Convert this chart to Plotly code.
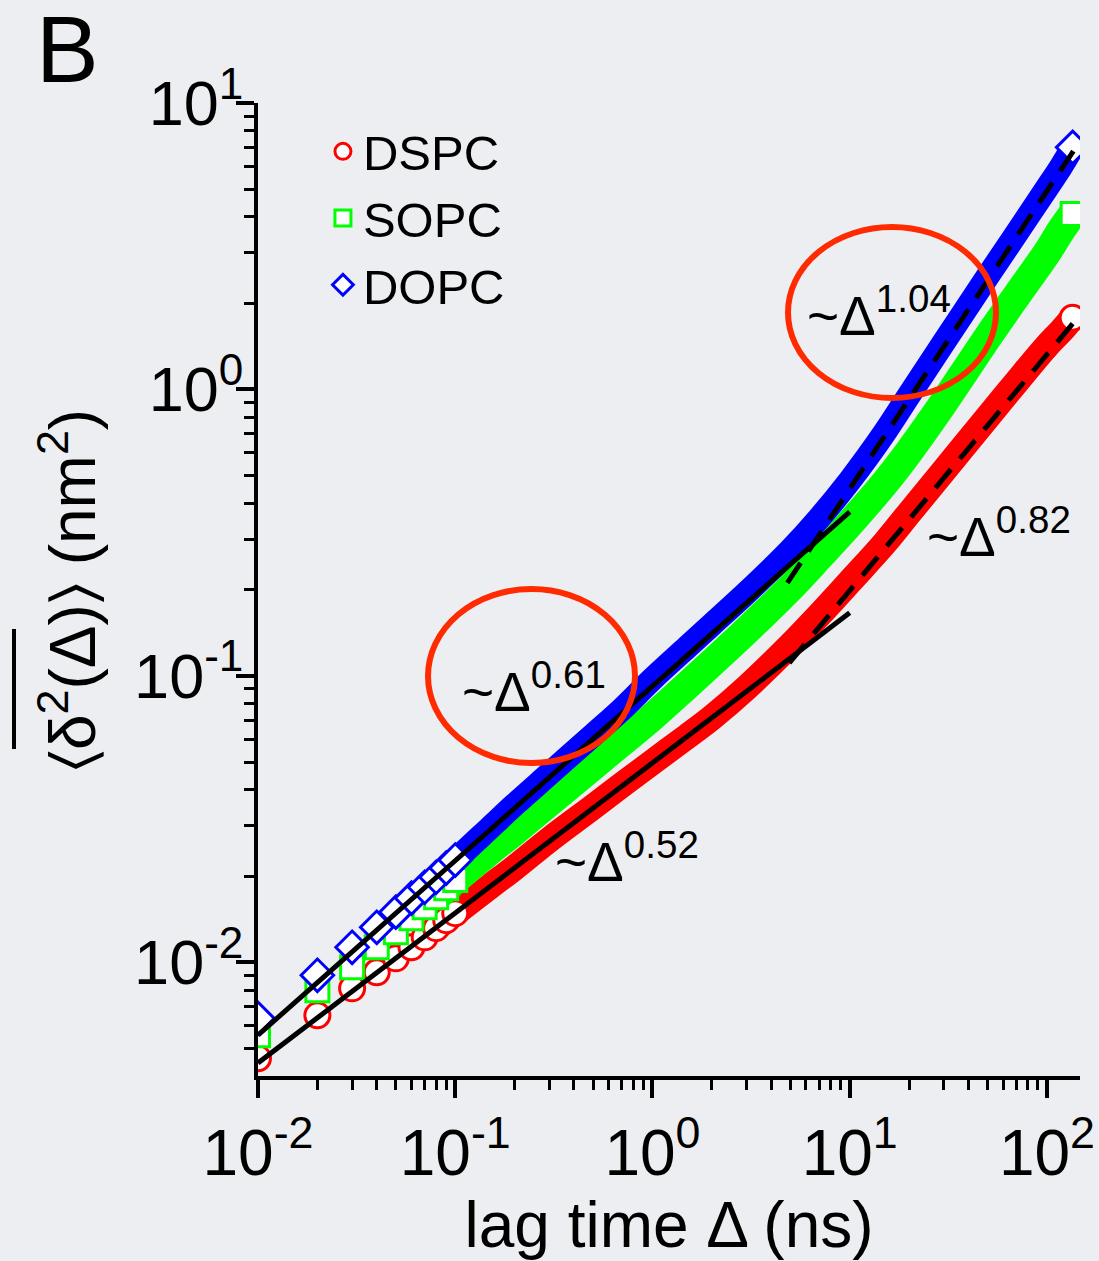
import plotly.graph_objects as go

# ---------------- data ----------------
lag_time = [0.01, 0.02, 0.03, 0.04, 0.05, 0.06, 0.07, 0.08, 0.09, 0.1,
            0.15, 0.2, 0.3, 0.5, 0.7, 1, 1.5, 2, 3, 5, 7, 10, 15, 20,
            30, 50, 70, 100, 118, 135]

dspc = [0.00462, 0.00653, 0.00811, 0.00923, 0.01032, 0.01128, 0.01222, 0.01315, 0.01403, 0.01484,
        0.0184, 0.0214, 0.0268, 0.0349, 0.0416, 0.0500, 0.0615, 0.0715, 0.091, 0.128, 0.163, 0.213,
        0.29, 0.37, 0.52, 0.80, 1.06, 1.42, 1.60, 1.78]

sopc = [0.00556, 0.00798, 0.00961, 0.01128, 0.01273, 0.01425, 0.01556, 0.01687, 0.01815, 0.01936,
        0.0245, 0.0287, 0.0362, 0.0484, 0.0587, 0.072, 0.0926, 0.111, 0.144, 0.203, 0.26, 0.34,
        0.47, 0.607, 0.90, 1.52, 2.12, 3.0, 3.6, 4.1]

dopc = [0.00637, 0.00901, 0.01128, 0.01325, 0.01496, 0.01675, 0.01828, 0.01981, 0.02133, 0.02275,
        0.0295, 0.0355, 0.0455, 0.0622, 0.0765, 0.0975, 0.126, 0.151, 0.195, 0.275, 0.355, 0.48,
        0.705, 0.955, 1.46, 2.48, 3.5, 5.05, 6.0, 7.0]

# power-law fit segments (end points)
fit052_x = [0.01, 10]
fit052_y = [0.00445, 0.166]
fit061_x = [0.01, 10]
fit061_y = [0.00557, 0.374]
fit082_x = [4.94, 145]
fit082_y = [0.111, 1.80]
fit104_x = [4.83, 145]
fit104_y = [0.211, 7.26]

series_names = ["DSPC", "SOPC", "DOPC"]
series_values = [dspc, sopc, dopc]
series_colors = ["#ff0000", "#00ff00", "#0000ff"]
series_symbols = ["circle", "square", "diamond"]
series_sizes = [25, 23, 25]
band_widths = [26, 29, 24]

tick_vals_x = [0.01, 0.1, 1, 10, 100]
tick_text_x = ["10<sup>-2</sup>", "10<sup>-1</sup>", "10<sup>0</sup>", "10<sup>1</sup>", "10<sup>2</sup>"]
tick_vals_y = [0.01, 0.1, 1, 10]
tick_text_y = ["10<sup>-2</sup>", "10<sup>-1</sup>", "10<sup>0</sup>", "10<sup>1</sup>"]

SPARSE_END = 10   # markers distinct up to this index (exclusive)
BAND_START = 7    # dense band from this index

BG = "#eceef1"
FONT = "Liberation Sans, Arial, DejaVu Sans"

fig = go.Figure()

for name, vals, col, sym, ms, bw in zip(series_names, series_values, series_colors,
                                         series_symbols, series_sizes, band_widths):
    # dense overlapping markers rendered as a thick band
    fig.add_trace(go.Scatter(
        x=lag_time[BAND_START:], y=vals[BAND_START:], mode="lines",
        line=dict(color=col, width=bw, shape="spline", smoothing=1.0),
        showlegend=False, hoverinfo="skip"))
    # distinct early markers (legend entry)
    fig.add_trace(go.Scatter(
        x=lag_time[:SPARSE_END], y=vals[:SPARSE_END], mode="markers", name=name,
        marker=dict(symbol=sym, size=ms, color="white", line=dict(color=col, width=3))))
    # last point drawn on top
    fig.add_trace(go.Scatter(
        x=lag_time[-1:], y=vals[-1:], mode="markers", showlegend=False,
        marker=dict(symbol=sym, size=ms, color="white", line=dict(color=col, width=3)),
        hoverinfo="skip"))

for fx, fy, dash in [(fit052_x, fit052_y, "solid"), (fit061_x, fit061_y, "solid"),
                     (fit082_x, fit082_y, "24px,14px"), (fit104_x, fit104_y, "24px,14px")]:
    fig.add_trace(go.Scatter(x=fx, y=fy, mode="lines", showlegend=False,
                             line=dict(color="black", width=5, dash=dash), hoverinfo="skip"))

XR = [-2, 2.1675]
YR = [-2.397, 1]

axis_common = dict(type="log", showgrid=False, zeroline=False, showline=True,
                   linecolor="black", linewidth=4, automargin=False)

fig.update_layout(
    width=1099, height=1261,
    margin=dict(l=258, r=19, t=103, b=185, autoexpand=False),
    paper_bgcolor=BG, plot_bgcolor=BG,
    font=dict(family=FONT, color="black"),
    showlegend=True,
    legend=dict(x=0.079, y=0.9897, xanchor="left", yanchor="top",
                bgcolor="rgba(0,0,0,0)", font=dict(size=49, family=FONT),
                itemsizing="trace", tracegroupgap=0),
    xaxis=dict(**axis_common, range=XR, tickvals=tick_vals_x, ticktext=tick_text_x,
               ticks="outside", ticklen=18, tickwidth=3.5, tickcolor="black",
               tickfont=dict(size=64, family=FONT),
               minor=dict(ticks="outside", ticklen=10, tickwidth=3, dtick="D1", tickcolor="black"),
               title=dict(text="lag time \u0394 (ns)", font=dict(size=64, family=FONT), standoff=10)),
    yaxis=dict(**axis_common, range=YR, tickvals=tick_vals_y, ticktext=tick_text_y,
               ticks="outside", ticklen=18, tickwidth=3.5, tickcolor="black",
               tickfont=dict(size=63, family=FONT),
               minor=dict(ticks="outside", ticklen=10, tickwidth=3, dtick="D1", tickcolor="black")),
    xaxis2=dict(**axis_common, range=XR, overlaying="x", side="top", anchor="y",
                ticks="inside", ticklen=18, tickwidth=3.5, tickcolor="black",
                tickvals=tick_vals_x, showticklabels=False,
                minor=dict(ticks="inside", ticklen=10, tickwidth=3, dtick="D1", tickcolor="black")),
    yaxis2=dict(**axis_common, range=YR, overlaying="y", side="right", anchor="x",
                ticks="inside", ticklen=18, tickwidth=3.5, tickcolor="black",
                tickvals=tick_vals_y, showticklabels=False,
                minor=dict(ticks="inside", ticklen=10, tickwidth=3, dtick="D1", tickcolor="black")),
)

# bring y tick labels closer to the axis (as in the reference)
try:
    fig.layout.yaxis.ticklabelstandoff = -20
except Exception:
    pass

W, H = 822.0, 973.0
def px(xp):
    return (xp - 258) / W
def py(yp):
    return (1076 - yp) / H

ann = []
ann.append(dict(text="B", x=px(67), y=py(49), xref="paper", yref="paper",
                xanchor="center", yanchor="middle",
                showarrow=False, font=dict(size=94, family=FONT)))
ann.append(dict(text="\u2329\u03b4<sup>2</sup>(\u0394)\u232a (nm<sup>2</sup>)",
                x=px(68), y=py(590), xref="paper", yref="paper", textangle=-90,
                xanchor="center", yanchor="middle",
                showarrow=False, font=dict(size=64, family=FONT)))
for txt, xl, yc in [("~\u0394<sup>0.61</sup>", 460, 688), ("~\u0394<sup>1.04</sup>", 805, 312),
                    ("~\u0394<sup>0.82</sup>", 925, 533), ("~\u0394<sup>0.52</sup>", 553, 858)]:
    ann.append(dict(text=txt, x=px(xl), y=py(yc), xref="paper", yref="paper",
                    xanchor="left", yanchor="middle", showarrow=False,
                    font=dict(size=55, family=FONT)))
fig.update_layout(annotations=ann)

shapes = [
    dict(type="circle", xref="paper", yref="paper", x0=px(428), x1=px(635), y0=py(763), y1=py(589),
         line=dict(color="#ff2a00", width=6)),
    dict(type="circle", xref="paper", yref="paper", x0=px(788), x1=px(996), y0=py(398), y1=py(227),
         line=dict(color="#ff2a00", width=6)),
    # overline of the y-axis title
    dict(type="line", xref="paper", yref="paper", x0=px(14), x1=px(14), y0=py(629), y1=py(749),
         line=dict(color="black", width=4)),
]
fig.update_layout(shapes=shapes)

fig.write_html("out.html")
